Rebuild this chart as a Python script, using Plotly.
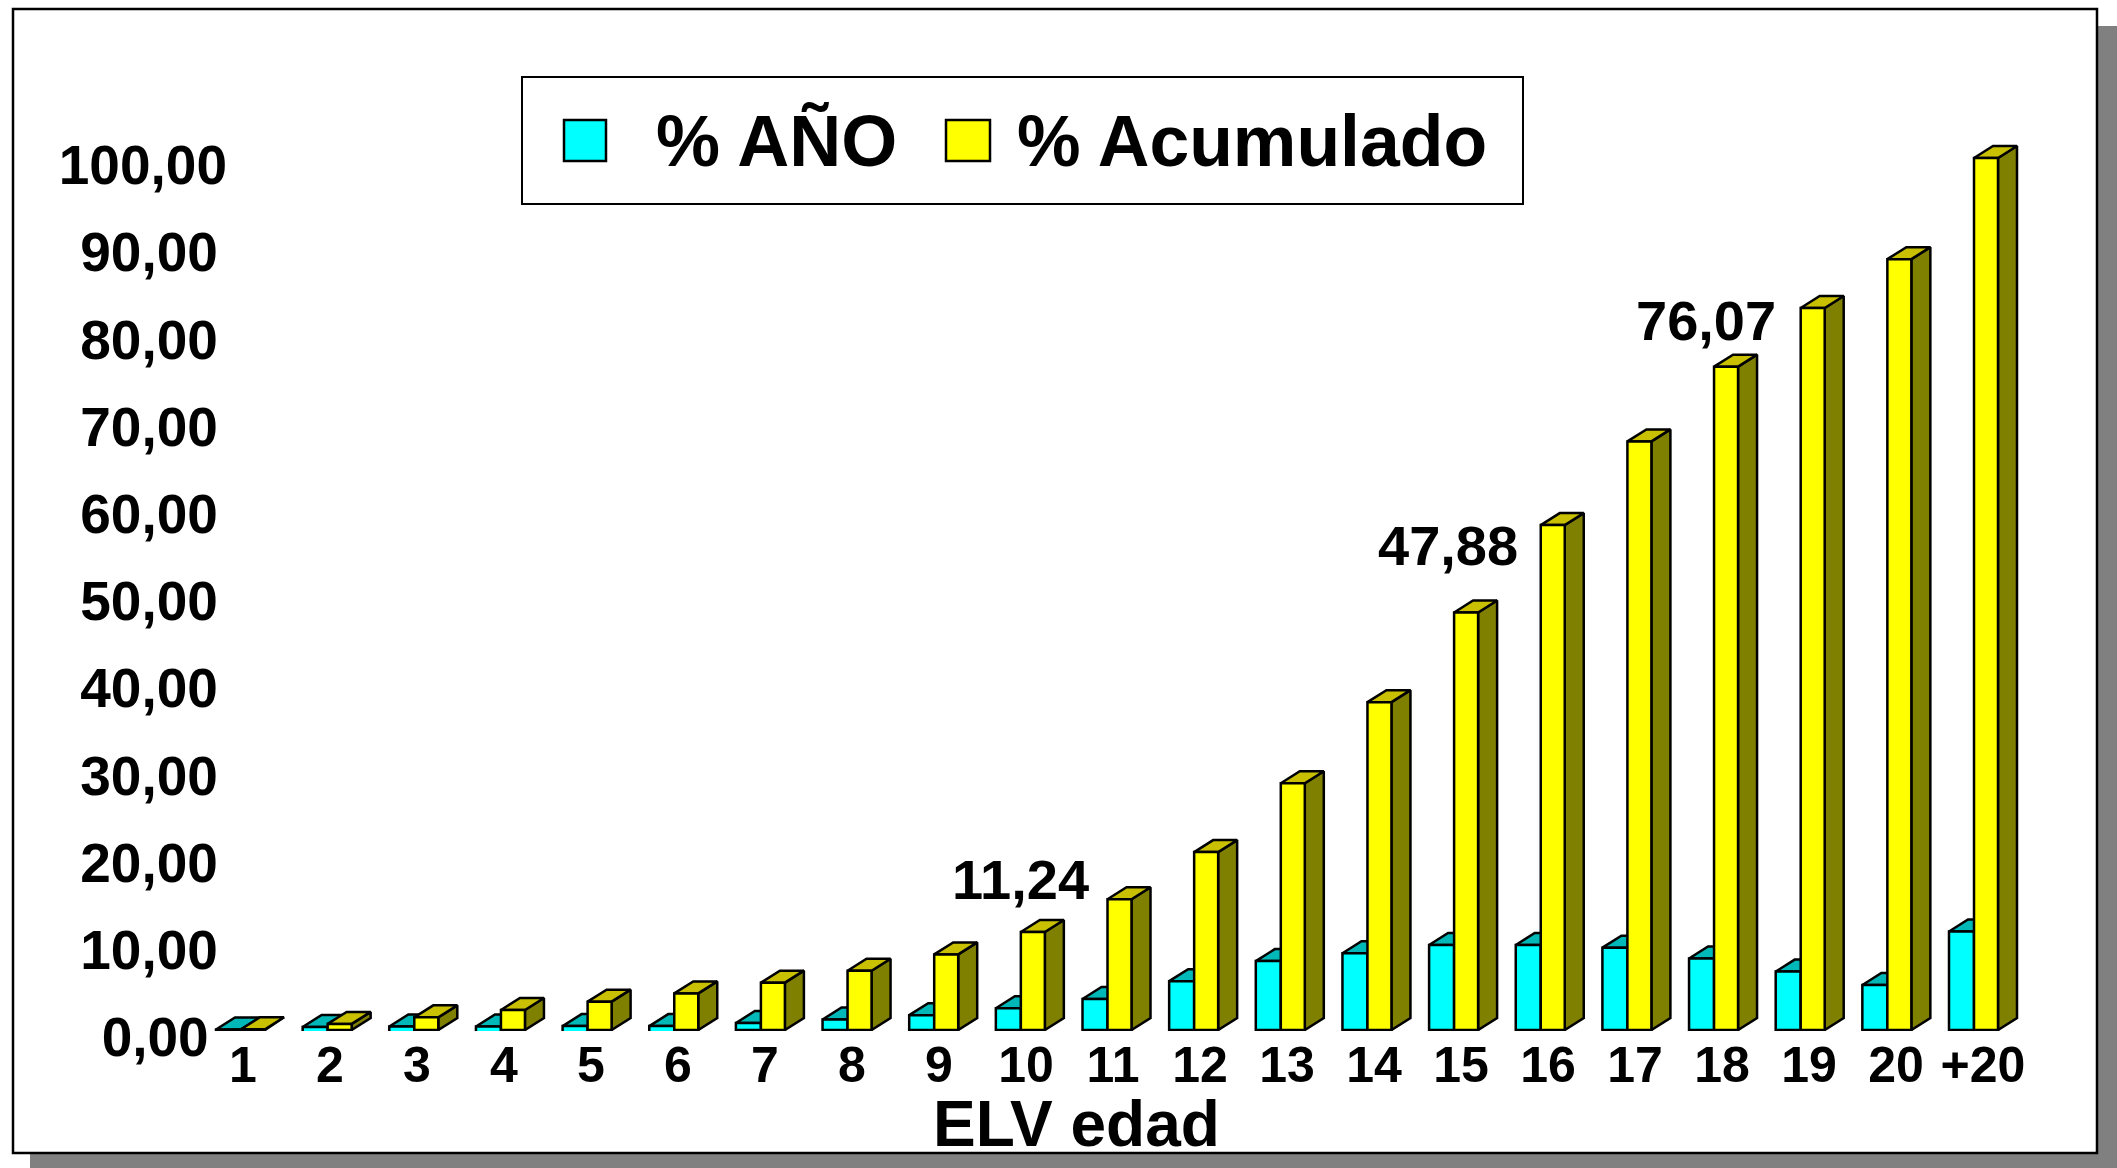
import plotly.graph_objects as go

categories = ["1","2","3","4","5","6","7","8","9","10","11","12","13","14","15","16","17","18","19","20","+20"]
pct_year = [0.05,0.35,0.4,0.4,0.45,0.45,0.8,1.2,1.7,2.5,3.56,5.6,7.9,8.8,9.75,9.75,9.44,8.2,6.7,5.16,11.3]
year_foot = [0,0.35,0.35,0.35,0.3,0.3,0,0,0,0,0,0,0,0,0,0,0,0,0,0,0]
pct_cum = [0.08,0.7,1.45,2.3,3.25,4.2,5.43,6.8,8.67,11.24,15.0,20.4,28.3,37.6,47.88,57.9,67.5,76.07,82.8,88.4,100.0]
y_ticks = [0,10,20,30,40,50,60,70,80,90,100]
y_labels = ["0,00","10,00","20,00","30,00","40,00","50,00","60,00","70,00","80,00","90,00","100,00"]
callouts = [("11,24",9,0,52),("47,88",14,-6,67),("76,07",17,-8,46)]

W,H = 2117,1168
L,R,T,B = 112,2040,100,1031
PX_PER_CAT = 86.65
PX_PER_UNIT = 8.72
LABEL_STEP = 87/86.65
X0_PX, Y0_PX = 241, 1030
x_range = [(L-X0_PX)/PX_PER_CAT, (R-X0_PX)/PX_PER_CAT]
y_range = [(Y0_PX-B)/PX_PER_UNIT, (Y0_PX-T)/PX_PER_UNIT]
DX, DY = 19/PX_PER_CAT, 12/PX_PER_UNIT
W_CY, W_YE = 25/PX_PER_CAT, 24/PX_PER_CAT
idx = list(range(len(categories)))

def px(p): return (p-L)/(R-L)
def py(p): return (B-p)/(B-T)

def top_poly(x0,x1,v):
    return [x0,x0+DX,x1+DX,x1,x0,None],[v,v+DY,v+DY,v,v,None]
def side_poly(x1,v):
    return [x1,x1+DX,x1+DX,x1,x1,None],[0,DY,v+DY,v,0,None]
def polys(fn,*argsets):
    xs,ys=[],[]
    for a in argsets:
        px_,py_=fn(*a); xs+=px_; ys+=py_
    return xs,ys

LINE=dict(color="#000000",width=2.5)
def face(xy,fill,z,name):
    return go.Scatter(x=xy[0],y=xy[1],mode="lines",fill="toself",fillcolor=fill,line=LINE,
                      zorder=z,showlegend=False,hoverinfo="skip",name=name,cliponaxis=False)

fig=go.Figure()
fig.add_trace(face(polys(side_poly,*[(i,v) for i,v in zip(idx,pct_year)]),"#008080",0,"% AÑO lado"))
fig.add_trace(face(polys(top_poly,*[(i-W_CY,i,v) for i,v in zip(idx,pct_year)]),"#00b8b8",0,"% AÑO tapa"))
fig.add_trace(go.Bar(x=idx,y=[v+f for v,f in zip(pct_year,year_foot)],base=[-f for f in year_foot],width=W_CY,offset=-W_CY,
                     marker=dict(color="#00ffff",line=LINE),name="% AÑO",zorder=1,showlegend=False))
fig.add_trace(face(polys(side_poly,*[(i+W_YE,v) for i,v in zip(idx,pct_cum)]),"#808000",2,"% Acumulado lado"))
fig.add_trace(face(polys(top_poly,*[(i,i+W_YE,v) for i,v in zip(idx,pct_cum)]),"#c8c000",2,"% Acumulado tapa"))
fig.add_trace(go.Bar(x=idx,y=pct_cum,width=W_YE,offset=0,marker=dict(color="#ffff00",line=LINE),name="% Acumulado",zorder=3,showlegend=False))

SP="\u2006"
padded=[lab+SP*(2 if t==0 else 0 if t==100 else 1) for t,lab in zip(y_ticks,y_labels)]
FONT="Liberation Sans"
shapes=[
 dict(type="rect",xref="paper",yref="paper",x0=px(30),x1=px(W),y0=py(26),y1=py(H),fillcolor="#808080",line=dict(width=0),layer="below"),
 dict(type="rect",xref="paper",yref="paper",x0=px(13),x1=px(2097),y0=py(9),y1=py(1153),fillcolor="#ffffff",line=dict(color="#000000",width=2.5),layer="below"),
 dict(type="rect",xref="paper",yref="paper",x0=px(522),x1=px(1523),y0=py(77),y1=py(204),fillcolor="#ffffff",line=dict(color="#000000",width=2)),
 dict(type="rect",xref="paper",yref="paper",x0=px(564),x1=px(606),y0=py(120),y1=py(161),fillcolor="#00ffff",line=dict(color="#000000",width=2.5)),
 dict(type="rect",xref="paper",yref="paper",x0=px(946),x1=px(990),y0=py(120),y1=py(161),fillcolor="#ffff00",line=dict(color="#000000",width=2.5)),
]
anns=[
 dict(text="<b>% AÑO</b>",xref="paper",yref="paper",x=px(654),y=py(141),xanchor="left",yanchor="middle",showarrow=False,font=dict(size=72,color="#000000",family=FONT)),
 dict(text="<b>% Acumulado</b>",xref="paper",yref="paper",x=px(1015),y=py(141),xanchor="left",yanchor="middle",showarrow=False,font=dict(size=71.5,color="#000000",family=FONT)),
 dict(text="<b>ELV edad</b>",xref="paper",yref="paper",x=px(1076),y=py(1124),xanchor="center",yanchor="middle",showarrow=False,font=dict(size=64,color="#000000",family=FONT)),
]
for t,i,xs,ys in callouts:
    anns.append(dict(text=f"<b>{t}</b>",xref="x",yref="y",x=i,y=pct_cum[i],xshift=xs,yshift=ys,showarrow=False,xanchor="center",yanchor="middle",font=dict(size=56,color="#000000",family=FONT)))

fig.update_layout(width=W,height=H,margin=dict(l=L,r=W-R,t=T,b=H-B,autoexpand=False),
    paper_bgcolor="#ffffff",plot_bgcolor="rgba(0,0,0,0)",barmode="overlay",showlegend=False,
    shapes=shapes,annotations=anns,font=dict(family=FONT,color="#000000"),
    xaxis=dict(range=x_range,tickmode="array",tickvals=[i*LABEL_STEP for i in idx],ticktext=categories,showgrid=False,zeroline=False,showline=False,ticks="",
               ticklabelshift=2,tickfont=dict(size=50,family=FONT,weight="bold"),automargin=False),
    yaxis=dict(range=y_range,anchor="free",position=px(227),tickmode="array",tickvals=y_ticks,ticktext=padded,showgrid=False,zeroline=False,showline=False,ticks="",
               ticklabelshift=7,tickfont=dict(size=55,family=FONT,weight="bold"),automargin=False))
fig.write_html("out.html",config={"displayModeBar":False},post_script="document.body.style.margin='0';document.documentElement.style.overflow='hidden';")
